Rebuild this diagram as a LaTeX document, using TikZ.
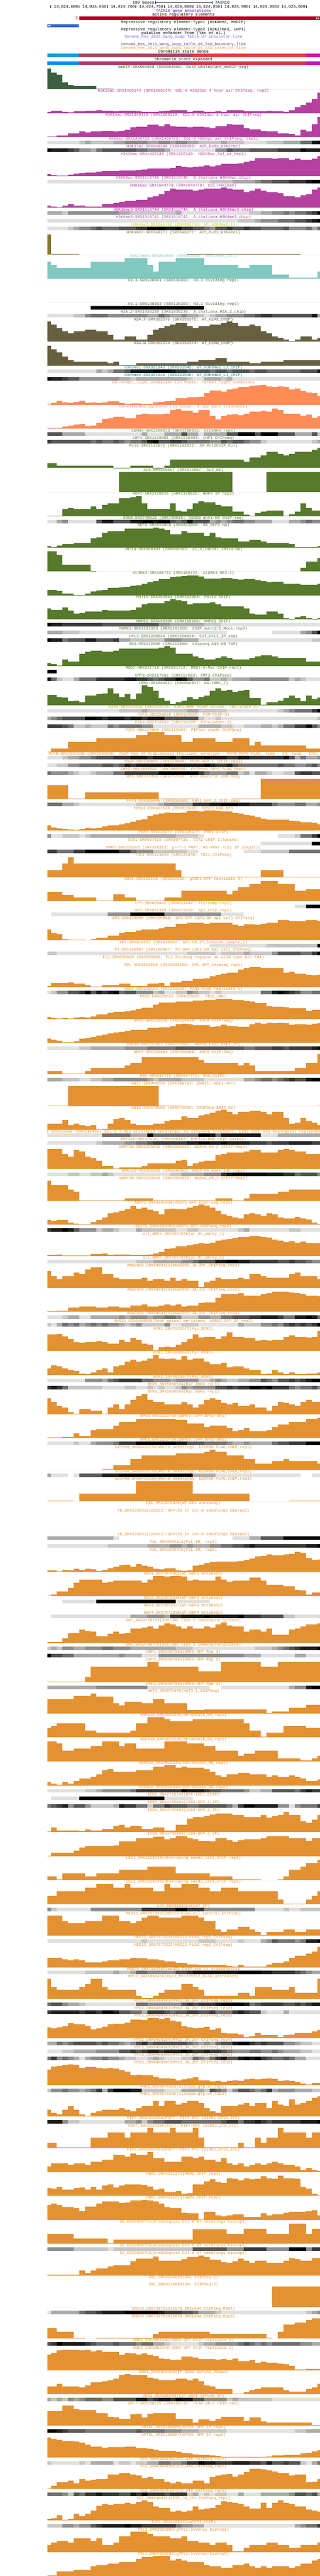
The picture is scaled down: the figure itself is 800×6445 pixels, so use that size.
\documentclass[tikz,border=0pt]{standalone}
\usepackage{fontspec}
\newfontfamily\ucsc{Liberation Mono}
\definecolor{gr1}{RGB}{224,224,224}
\definecolor{gr2}{RGB}{198,198,198}
\definecolor{gr3}{RGB}{170,170,170}
\definecolor{gr4}{RGB}{142,142,142}
\definecolor{gr5}{RGB}{113,113,113}
\definecolor{gr6}{RGB}{85,85,85}
\definecolor{gr7}{RGB}{57,57,57}
\definecolor{gr8}{RGB}{28,28,28}
\definecolor{gr9}{RGB}{0,0,0}
\definecolor{genecol}{RGB}{80,0,240}
\definecolor{redel}{RGB}{181,0,32}
\definecolor{blueel}{RGB}{51,102,204}
\definecolor{insul}{RGB}{120,110,240}
\definecolor{tadb}{RGB}{72,61,139}
\definecolor{tadi}{RGB}{218,165,32}
\definecolor{cs1}{RGB}{0,160,230}
\definecolor{cs2}{RGB}{181,64,96}
\definecolor{cs3}{RGB}{230,57,70}
\definecolor{cs4}{RGB}{212,16,176}
\definecolor{csline}{RGB}{100,50,210}
\definecolor{medip}{RGB}{60,95,65}
\definecolor{acol}{RGB}{180,64,160}
\definecolor{k36}{RGB}{222,0,200}
\definecolor{k4me2}{RGB}{210,210,0}
\definecolor{k4me1}{RGB}{136,120,48}
\definecolor{k27}{RGB}{128,200,192}
\definecolor{hvar}{RGB}{102,95,64}
\definecolor{k9}{RGB}{0,136,150}
\definecolor{dhcol}{RGB}{255,139,87}
\definecolor{grn}{RGB}{87,122,44}
\definecolor{org}{RGB}{228,145,50}
\tikzset{lblsty/.style={font=\ucsc\fontsize{10}{10}\selectfont, inner sep=0pt, anchor=base}}
\newcount\trk
\gdef\ty{167}
\gdef\curdiv{1}
\newcommand\tlabel[2]{%
  \global\advance\trk by 1
  \begin{scope}
    \clip (118,\ty-8) rectangle (800,\ty+8);
    \node[lblsty,text=#2] (t\the\trk) at (459,\ty+3.2) {#1};
  \end{scope}}
\newcommand\bartrack[3]{%
  \tlabel{#1}{#2}%
  \gdef\bi{0}%
  \foreach \n/\v in {#3}{%
    \pgfmathsetmacro\xa{ifthenelse(\bi==0,118,127.2+14.2*(\bi-1))}%
    \pgfmathtruncatemacro\bj{\bi+\n}%
    \pgfmathsetmacro\xb{min(800,127.2+14.2*(\bj-1))}%
    \pgfmathsetmacro\hh{min(51,\v/\curdiv)}%
    \fill[#2] (\xa,\ty+56) rectangle (\xb,\ty+56-\hh);%
    \xdef\bi{\bj}%
  }%
  \pgfmathsetmacro\tmp{\ty+60}\xdef\ty{\tmp}%
}
\newcommand\densetrack[3]{%
  \tlabel{#1}{#2}%
  \gdef\bi{0}%
  \foreach \n/\g in {#3}{%
    \pgfmathsetmacro\xa{ifthenelse(\bi==0,118,127.2+14.2*(\bi-1))}%
    \pgfmathtruncatemacro\bj{\bi+\n}%
    \pgfmathsetmacro\xb{min(800,127.2+14.2*(\bj-1))}%
    \ifnum\g>0 \fill[gr\g] (\xa,\ty+5) rectangle (\xb,\ty+14);\fi
    \xdef\bi{\bj}%
  }%
  \pgfmathsetmacro\tmp{\ty+19}\xdef\ty{\tmp}%
}
\begin{document}
\begin{tikzpicture}[x=1pt,y=-1pt]
\useasboundingbox (0,0) rectangle (800,6445);
\fill[white] (0,0) rectangle (800,6445);
% scale bar
\node[lblsty,anchor=base east] (sb) at (386,9.2) {100 bases};
\coordinate (sbl) at (388.5,6);
\coordinate (sbr) at (530.5,6);
\draw[line width=0.8pt] (sbl) -- (sbr);
\draw[line width=0.8pt] ([yshift=4pt]sbl) -- ([yshift=-4pt]sbl);
\draw[line width=0.8pt] ([yshift=4pt]sbr) -- ([yshift=-4pt]sbr);
\node[lblsty,anchor=base west] (asm) at (538,9.2) {TAIR10};
% position ruler
\foreach \k/\lab in {0/,1/{14,024,600},2/{14,024,650},3/{14,024,700},4/{14,024,750},5/{14,024,800},6/{14,024,850},7/{14,024,900},8/{14,024,950},9/{14,025,000}}{
  \pgfmathsetmacro\tx{126.6+71.1*\k}
  \draw[line width=0.8pt] (\tx,13.3) -- (\tx,21);
  \node[lblsty,anchor=base east] (r\k) at (\tx-2.5,20.4) {\lab};
}
\node[lblsty,text=genecol] (gene) at (459,29.9) {TAIR10 gene annotations};
\node[lblsty] (act) at (459,38.9) {active regulatory elements};
\fill[redel] (198.7,41) rectangle (800,50);
\node[lblsty,text=redel] (three) at (191.6,48.7) {3};
\fill[white] (791,43) -- (794.5,45.5) -- (791,48) -- cycle;
\fill[white] (795,43) -- (798.5,45.5) -- (795,48) -- cycle;
\node[lblsty] (rep1) at (459,58.2) {Repressive regulatory element-Type1 (H3K9me2, MeDIP)};
\fill[blueel] (118,60) rectangle (197.2,68.7);
\fill[white] (123,62) -- (119.5,64.4) -- (123,66.8) -- cycle;
\fill[white] (126.8,62) -- (123.3,64.4) -- (126.8,66.8) -- cycle;
\node[lblsty] (rep2) at (459,77.2) {Repressive regulatory element-Type2 (H3K27me3, LHP1)};
\node[lblsty] (enh) at (459,86.2) {putative enhancer from (Yan et al.)};
\node[lblsty,text=insul] (s7) at (459,95.2) {Genome\_Res\_2015\_Wang\_Supp\_Table\_S7\_insulator-like};
\node[lblsty,text=tadb] (s8) at (459,114.2) {Genome\_Res\_2015\_Wang\_Supp\_Table\_S8\_TAD\_boundary\_like};
\node[lblsty,text=tadi] (s9) at (459,123.2) {Genome\_Res\_2015\_Wang\_Supp\_Table\_S9\_TAD\_interior\_like};
\node[lblsty] (csd) at (459,132.2) {Chromatin state dense};
\fill[cs1] (118,134) rectangle (197.2,142.7);
\fill[cs2] (197.2,134) rectangle (481.7,142.7);
\fill[cs3] (481.7,134) rectangle (765.8,142.7);
\fill[cs4] (765.8,134) rectangle (800,142.7);
\node[lblsty] (cse) at (459,151.2) {Chromatin state expanded};
\fill[cs1] (118,153) rectangle (197.2,162);
\fill[cs2] (197.2,153) rectangle (481.7,162);
\fill[cs3] (481.7,153) rectangle (765.8,162);
\fill[cs4] (765.8,153) rectangle (800,162);
\draw[csline,line width=0.6pt] (118,157.2) -- (800,157.2);
\draw[csline,line width=0.6pt] (118.3,153) -- (118.3,162);
% ---------------- tracks ----------------
\gdef\curdiv{1}
\bartrack{meDIP-SRX004968 (SRX004968: Col0\_wholeplant\_meDIP-seq)}{medip}{1/51,1/41.7,1/35.7,1/16.7,1/10.7,4/7.7,3/1.7,37/0}
\gdef\curdiv{3}
\bartrack{H3K23ac-SRX1469144 (SRX1469144: COL-0 H3K23ac 4 hour air ChIPseq, rep2)}{acol}{1/11,2/17,1/8,1/5,2/14,2/17,1/20,2/17,1/14,3/17,1/14,3/11,1/14,1/17,3/20,1/11,2/17,2/11,1/14,1/11,3/20,4/14,1/17,2/14,1/11,1/23,1/44,1/62,1/80,1/107,1/153}
\bartrack{H3K14ac-SRX1469119 (SRX1469119: COL-0 H3K14ac 4 hour air ChIPseq)}{acol}{2/6,2/12,2/29,1/41,1/35,2/41,2/47,1/41,1/47,1/53,1/74,2/77,2/92,1/83,1/98,1/83,2/77,1/74,2/77,1/74,1/65,2/83,1/98,2/92,1/65,2/59,1/47,2/41,2/29,1/23,1/11,1/53,1/41,1/98,1/153}
\densetrack{H3K9ac-SRX1466723 (SRX1466723: COL-0 H3K9ac air ChIPseq, rep1)}{acol}{6/1,1/2,1/3,4/2,2/3,4/4,2/3,2/4,1/3,2/4,2/3,4/2,1/3,3/2,4/1,3/2,3/3,2/5,1/8,1/9}
\densetrack{H3K27ac-SRX648280 (SRX648280: Ath\_buds\_H3K27ac)}{acol}{1/9,3/8,1/7,1/6,2/4,1/3,1/5,6/6,2/5,3/4,1/3,8/1,2/4,1/6,3/5,5/6,4/7,1/9,3/8}
\bartrack{H3K36ac-SRX1426149 (SRX1426149: H3K36ac\_Col\_wt\_Rep1)}{acol}{1/17,1/8,2/5,1/11,1/20,1/23,2/29,1/35,1/38,2/41,3/44,1/47,1/50,4/59,1/62,1/77,1/71,1/68,1/71,1/74,1/80,1/74,1/80,1/92,2/95,1/98,1/107,1/116,1/137,1/134,1/137,1/131,2/134,1/125,1/131,2/125,1/131,1/152}
\densetrack{H3K56ac-SRX1518745 (SRX1518745: A\_thaliana\_H3K56ac\_chip)}{acol}{29/1,4/2,4/3,1/4,2/5,3/6,3/7,1/8,2/9}
\bartrack{H4K16ac-SRX1044778 (SRX1044778: Col-H4K16ac)}{acol}{1/19,1/10,1/4,1/19,1/28,2/19,3/10,2/28,1/37,1/43,2/52,2/61,1/79,1/85,1/103,1/127,1/145,3/137,1/128,1/137,3/146,1/152,1/146,2/137,1/119,1/128,1/146,1/128,2/119,1/110,2/86,1/80,1/95,1/104,1/137,1/152}
\densetrack{H3K36me3-SRX1518744 (SRX1518744: A\_thaliana\_H3K36me3\_chip)}{k36}{3/3,1/2,9/4,2/3,8/2,1/3,12/1,2/2,2/3,2/4,1/5,1/4,2/5,1/6,1/7,1/9}
\densetrack{H3K4me3-SRX1518741 (SRX1518741: A\_thaliana\_H3K4me3\_chip)}{acol}{34/1,3/2,1/3,3/4,3/5,2/6,1/7,1/8,1/9}
\densetrack{H3K4me2-DRX066756 (DRX066756: WT\_H3K4me2\_1)}{k4me2}{4/1,1/2,1/3,2/4,1/5,1/6,3/5,3/6,2/7,3/9,2/8,1/9,2/7,2/6,1/5,1/4,2/6,1/7,2/6,1/7,2/6,4/5,1/6,3/4,1/5,1/3,1/5}
\gdef\curdiv{1}
\bartrack{H3K4me1-SRX648277 (SRX648277: Ath\_buds\_H3K4me1)}{k4me1}{1/51,5/1,19/0,20/1,4/0}
\gdef\curdiv{2.412}
\bartrack{H3K27me3-SRX853860 (SRX853860: H3K27me3\_Col)}{k27}{1/103,1/83,6/64,6/103,4/122,1/83,1/44,3/103,5/122,6/83,2/64,4/83,3/23,5/4,1/43}
\bartrack{H3.3-SRX130301 (SRX130301: H3.3 dividing rep1)}{hvar}{49/0}
\densetrack{H3.1-SRX130303 (SRX130303: H3.1 dividing rep1)}{hvar}{8/0,20/9,21/0}
\densetrack{H2A.Z-SRX1436239 (SRX1436239: A\_thaliana\_H2A.Z\_chip)}{hvar}{5/1,2/2,1/4,3/5,7/4,2/3,1/5,1/4,2/3,1/4,2/3,1/2,1/1,1/2,2/3,3/4,2/5,1/6,2/7,7/6,1/8,1/3}
\bartrack{H2A.X-SRX352375 (SRX352375: WT\_H2AX\_ChIP)}{hvar}{1/122,1/103,1/83,1/62,1/52,2/62,2/74,2/62,1/42,2/13,2/33,2/13,1/42,1/74,1/83,1/93,1/103,2/112,1/93,1/83,2/93,2/103,1/112,1/122,1/112,2/93,1/103,1/93,1/62,1/52,1/33,1/23,1/13,1/5,1/13,2/33,1/13,1/23}
\bartrack{H2A.W-SRX352374 (SRX352374: WT\_H2AW\_ChIP)}{hvar}{1/122,1/100,1/79,1/57,1/35,6/25,1/14,1/25,3/4,9/14,2/25,3/35,2/46,4/25,2/14,4/25,7/35}
\densetrack{H3K9me1-SRX361945 (SRX361945: WT\_H3K9me1\_LJ\_ChIP)}{k9}{9/1,1/3,1/2,1/3,2/5,1/6,4/8,3/9,1/8,2/7,4/6,1/5,2/6,1/5,3/6,1/5,2/6,6/5,3/6,1/8}
\densetrack{H3K9me2-SRX361946 (SRX361946: WT\_H3K9me2\_LJ\_ChIP)}{k9}{1/9,2/8,1/7,2/6,7/4,2/3,1/2,9/3,1/2,2/1,3/3,1/2,1/3,16/1}
\bartrack{DH-normal\_light\_condition (in house: normal light conditon)}{dhcol}{1/4,1/11,1/25,1/16,1/13,1/18,1/25,1/13,1/16,1/11,1/16,2/20,1/13,1/7,2/10,2/6,1/15,1/18,1/20,1/23,2/40,1/47,1/45,1/49,1/71,2/86,1/81,1/94,1/98,2/108,1/116,1/118,1/122,1/111,1/108,1/112,1/107,1/93,1/98,1/83,1/73,1/70,1/54}
\bartrack{DH-extended\_darkness (in house: 3-day dark treatment)}{dhcol}{3/5,1/13,1/21,1/25,1/28,1/16,1/21,1/35,1/59,1/63,2/74,2/64,1/84,1/93,3/88,1/92,1/114,1/121,2/109,1/98,2/112,1/79,1/57,1/80,1/84,1/88,1/83,1/93,2/103,1/110,1/103,1/122,1/114,1/93,1/91,1/93,1/80,1/84,1/67,1/77}
\densetrack{CENH3-SRX2250913 (SRX2250913: AtCENH3\_rep1)}{grn}{3/6,4/3,10/1,1/3,3/1,3/3,1/6,2/3,1/1,4/3,2/6,3/9,1/6,3/9,3/6,3/3,1/6,1/2}
\densetrack{LHP1-SRX1519404 (SRX1519404: LHP1 ChIPseq)}{grn}{1/7,7/6,1/5,1/6,2/5,1/6,1/5,1/4,2/5,1/6,1/8,1/9,2/6,2/7,1/6,4/5,2/4,1/6,1/5,2/6,1/5,2/4,1/2,8/1,1/2,1/3}
\bartrack{Pol2-SRX1142672 (SRX1142672: 30\_Pol2ChIP\_Col)}{grn}{2/28,10/15,3/3,4/15,2/3,1/15,13/51,1/40,2/64,1/76,2/98,1/86,1/76,1/86,3/98,1/110,1/122}
\bartrack{AL5-SRX515067 (SRX515067: AL5\_OE)}{grn}{13/0,20/122,6/0,10/122}
\bartrack{HDP2-SRX2310526 (SRX2310526: HDP2 IP rep2)}{grn}{3/3,1/41,1/49,3/41,1/58,1/41,1/66,2/75,2/107,1/114,1/121,1/75,4/41,1/75,1/34,1/27,1/41,1/75,1/90,2/83,1/66,2/58,2/27,1/9,1/3,1/17,1/27,3/34,1/3,1/10,1/27,1/75,1/49,2/34}
\densetrack{SDG8-SRX749018 (SRX749018: hSDG8 anti-HA ChIP-seq)}{grn}{2/1,1/3,1/4,5/1,1/6,2/8,3/6,2/8,2/9,1/8,2/9,1/6,1/5,1/6,1/8,3/6,1/3,1/4,1/3,1/4,2/5,2/4,3/3,3/1,2/3,1/4,1/5,2/4}
\bartrack{REF6-SRX853858 (SRX853858: HA\_REF6-HA)}{grn}{1/10,1/4,1/11,2/21,3/28,1/55,1/62,1/89,3/99,5/115,1/122,1/115,1/105,2/81,1/99,3/89,1/72,1/89,1/62,3/55,2/38,2/45,1/38,4/28,1/21,4/4,1/10}
\bartrack{JMJ14-SRX669383 (SRX669383: ZC\_3\_140207 JMJ14-HA)}{grn}{2/122,1/102,5/42,1/2,36/0,1/23,2/61,1/83}
\bartrack{AtDEK3-SRX488722 (SRX488722: AtDEK3 OE3-1)}{grn}{2/35,1/28,2/13,2/4,1/13,1/25,1/30,1/35,2/45,1/51,1/54,1/58,1/63,1/72,1/80,1/87,2/98,1/111,1/116,1/118,2/122,1/115,2/101,1/102,2/104,1/99,1/96,2/99,1/93,1/86,1/81,2/83,3/72,2/65,1/66,1/70}
\bartrack{PolIV-SRX252954 (SRX252954: PolIV ChIP)}{grn}{1/67,2/59,1/72,1/55,1/35,1/40,3/47,1/59,4/55,1/59,1/72,1/91,3/98,1/110,1/122,1/117,1/110,1/91,3/98,1/105,1/91,4/79,1/66,1/35,1/28,1/28,2/47,1/35,1/8,1/3,1/15,1/21,1/8,1/3,1/8}
\densetrack{NRPE1-SRX159106 (SRX159106: NRPE1 ChIP)}{grn}{1/9,2/8,7/7,10/6,2/4,6/3,3/2,18/1}
\densetrack{MORC1-SRX1161363 (SRX1161358: ChIP\_morc1/2\_Mock\_rep3)}{grn}{3/3,3/2,26/1,8/0,5/1,1/3,1/4,1/6,1/9}
\densetrack{HYL1-SRX1268024 (SRX1268024: Col\_HYL1\_IP\_seq)}{grn}{1/9,2/8,1/5,3/6,2/8,3/6,1/7,2/3,6/2,3/4,3/3,20/1,2/2}
\bartrack{AN3-SRX212080 (SRX212080: Chipseq AN3 HB TAP)}{grn}{1/21,1/12,1/4,1/40,2/30,1/76,1/88,2/95,2/88,1/95,7/105,1/112,1/122,1/112,3/76,1/60,1/50,2/40,1/50,1/60,1/50,3/40,1/50,1/60,2/66,1/60,5/50,3/30}
\densetrack{MBD7-SRX621716 (SRX621716: MBD7-5-Myc-ChIP-rep1)}{grn}{2/9,47/0}
\densetrack{CMT3-SRX157663 (SRX157663: CMT3\_ChIPseq)}{grn}{1/8,1/5,1/2,2/1,1/3,3/5,5/7,2/8,2/7,1/6,1/5,1/6,2/7,1/9,1/8,1/6,2/4,1/5,2/2,1/3,1/2,3/3,7/4,1/2,1/3,1/2,3/1}
\bartrack{IBM1-DRX066817 (DRX066817: HA-IBM1\_2)}{grn}{2/64,1/52,1/47,1/25,1/30,1/20,2/61,1/68,1/73,1/105,1/71,1/52,1/68,1/37,1/73,1/122,1/114,1/88,1/44,1/28,1/11,1/20,1/28,1/52,1/37,1/52,1/61,1/88,1/105,1/88,1/95,1/83,1/88,1/95,1/44,1/44,1/4,2/20,1/30,1/44,1/61,1/44,1/25,1/61,1/37,1/47}
\densetrack{E2Fa-SRX333416 (SRX333416: E2Fa-HBH TChAP output, replicate 2)}{org}{13/1,4/2,1/3,7/2,2/3,5/2,9/1,1/2,1/3,1/4,3/5,1/7,1/9}
\densetrack{PIF3-SRX159028 (SRX159028: P3M-ChIP-3)}{org}{1/3,1/4,1/5,4/6,2/9,1/8,1/7,3/8,1/7,2/8,1/7,3/8,6/6,1/2,2/1,1/2,17/1,1/2}
\densetrack{PIF4-SRX214150 (SRX214150: PIF4-peaks-3)}{org}{3/7,1/6,1/5,2/2,1/3,3/2,1/5,1/4,4/5,2/4,8/1,4/3,2/2,2/1,3/2,2/3,1/2,1/3,2/5,2/7,1/9,1/6,1/4}
\bartrack{PIF5-SRX115869 (SRX115869: PIF5ox shade ChIPSeq)}{org}{1/4,3/22,5/63,7/83,2/102,3/121,3/102,2/63,4/83,3/63,3/83,1/42,1/63,8/42,3/22}
\densetrack{PHYB-SRX2063648 (SRX2063648: ChIP-Seq of Arabidopsis thaliana; genotype - PHYB:PHYB-FLAG, time - 10, temp - 17C)}{org}{3/1,1/2,2/3,2/4,1/5,3/6,3/7,3/8,1/7,3/8,1/9,1/7,4/8,1/9,3/8,2/7,2/8,6/7,1/8,1/6,1/3,1/5,2/3,1/4}
\densetrack{PhyA-SRX320094 (SRX320094: PhyA-GFP\_1 [ChIP-seq])}{org}{2/1,2/2,2/4,4/5,2/6,1/5,1/6,1/8,1/7,5/8,1/9,6/8,1/9,1/8,2/7,1/8,1/6,7/5,1/6,2/5,2/4,1/5,1/6,1/4}
\densetrack{CRY2-SRX1005826 (SRX1005826: ChIPSeq-CRY2\_FLAG\_Rep1)}{org}{1/5,3/4,1/3,1/2,2/1,1/2,3/3,2/5,6/7,7/9,1/7,1/5,3/4,2/5,1/2,1/3,1/1,2/3,1/2,2/1,2/2,1/6,2/7,2/6}
\bartrack{HY5-SRX727353 (SRX727353: HY5 specific gDB-seq)}{org}{4/82,3/3,13/41,7/3,6/0,5/3,11/121}
\densetrack{FHY1-SRX555090 (SRX555090: FHY1-GFP\_2\_ChIP-seq)}{org}{3/5,2/3,1/2,10/1,4/2,1/3,5/4,3/7,2/8,3/9,2/8,4/7,1/5,3/4,2/5,2/3,1/4}
\bartrack{FRS12-ERX611626 (ERX611626: FRS12\_HBH\_N2)}{org}{1/31,1/19,1/14,1/9,1/6,1/3,1/10,1/16,1/14,1/16,1/24,1/31,1/33,1/39,1/45,1/54,1/62,1/69,1/86,1/97,1/102,1/108,2/107,1/109,1/117,1/119,1/116,2/122,1/120,2/115,1/107,1/103,1/94,1/90,1/82,1/72,1/65,1/67,2/65,1/60,1/57,1/50,1/49,1/46,1/39}
\densetrack{PRR5-SRX128177 (SRX128177: PRR5-ChIP)}{org}{1/4,2/1,3/2,1/1,1/2,15/3,4/2,1/1,13/0,3/1,1/2,2/5,1/7,1/9}
\densetrack{CCA1-SRX997425 (SRX997425: CCA1-ChIP\_Illumina)}{org}{38/0,9/1,2/9}
\densetrack{PRR7-SRX328353 (SRX328353: prr7-3 PRR7::HA-PRR7 \#151 IP (ExpII))}{org}{2/7,3/5,2/7,6/9,2/7,1/5,3/4,6/2,2/1,8/0,3/1,5/2,6/5}
\bartrack{TOC1-SRX121040 (SRX121040: TOC1\_ChIPSeq)}{org}{3/42,1/84,1/122,18/84,1/42,14/4,4/42,7/4}
\bartrack{SOC1-SRX262132 (SRX262132: gSOC1-GFP replicate 3)}{org}{3/57,2/38,4/24,3/5,2/43,2/24,5/5,3/24,8/62,1/43,1/62,2/84,2/103,3/122,3/103,2/62,3/74}
\densetrack{LFY-SRX029442 (SRX029442: lfy-samp-rep2)}{org}{44/0,2/1,3/9}
\densetrack{AP2-SRX019319 (SRX019319: ap2\_chip\_rep2)}{org}{1/0,10/1,4/4,6/9,10/4,4/1,14/0}
\bartrack{AP3-SRX150808 (SRX150808: AP3-GFP (AP1-GR ap1 cal) ChIPseq)}{org}{1/67,1/45,1/38,1/9,3/4,1/0,1/9,2/16,2/30,1/45,2/52,1/59,3/67,1/74,2/81,2/101,3/108,1/101,4/108,1/96,1/88,2/98,1/96,1/101,2/108,2/122,3/116,2/122,1/118}
\densetrack{AP1-SRX018392 (SRX018392: AP1-GR\_2h\_induced\_sample\_1)}{org}{29/0,10/1,9/2,1/9}
\densetrack{PI-SRX150807 (SRX150807: PI-GFP (AP1-GR ap1 cal) ChIPseq)}{org}{2/2,23/1,5/2,1/1,4/2,1/3,4/2,1/4,4/6,2/5,1/7,1/9}
\densetrack{FLC-SRX039006 (SRX039006: FLC binding regions in wild type Col FRI)}{org}{49/0}
\bartrack{RPL-SRX1603698 (SRX1603698: RPL-GFP\_chipseq\_rep1)}{org}{1/8,3/25,1/30,2/21,1/13,2/4,3/13,2/21,3/8,2/21,1/25,1/8,2/30,2/37,2/49,1/54,1/66,1/76,1/83,2/88,1/105,1/117,2/122,4/117,1/88,1/95,2/83,1/76,1/71,1/76}
\densetrack{KAN1-SRX310193 (SRX310193: KAN1-FLAG replicate 1)}{org}{1/1,1/2,2/4,2/6,1/7,1/9,1/6,1/8,1/7,1/8,1/9,1/5,2/6,3/4,1/2,1/3,2/1,2/2,1/4,1/3,2/2,1/1,1/2,7/1,2/5,1/8,1/9,1/8,1/7,1/6,2/4,2/5}
\gdef\curdiv{1}
\bartrack{PPD2-ERX620625 (ERX620625: PPD2\_HBH)}{org}{1/4.6,1/2,1/1.3,1/2,1/1.3,1/3,1/4.6,1/3.4,1/5.8,2/11.6,1/14.5,2/17,1/18.7,1/21,1/25,2/28,1/35,1/40,2/40.7,3/43,2/46,2/46.7,1/50,2/49.3,2/46.7,1/44.7,1/42.6,2/39.7,1/32,2/30,1/29.4,3/26.5,1/20,2/23}
\gdef\curdiv{2.412}
\bartrack{SPCH-SRX539638 (SRX539638: SPCH ChIP-Seq)}{org}{1/25,1/19,1/14,2/4,1/11,1/24,1/28,1/33,1/43,1/51,1/55,1/62,1/65,1/73,1/77,2/79,1/89,1/91,2/94,1/101,1/112,1/115,1/111,1/107,2/106,1/97,1/99,1/108,1/103,1/101,2/96,1/113,1/120,1/115,1/120,1/118,1/122,1/119,1/108,2/111,1/108,1/115,1/118}
\densetrack{ARR10-SRX732967 (SRX732967: ARR10\_Exp1\_Rep1\_IP)}{org}{6/1,2/2,6/3,4/4,5/5,12/6,2/5,3/6,2/7,1/6,4/7,1/8,1/9}
\bartrack{ARF6-SRX368984 (SRX368984: ARF6 ChIP-Seq)}{org}{3/21,4/3,1/21,6/37,1/54,2/70,10/105,1/88,6/70,1/54,1/70,1/54,7/21,2/37,2/70,1/121}
\densetrack{RGA-SRX647775 (SRX647775: RGA\_ChIP2)}{org}{3/3,3/2,2/1,2/2,2/3,6/4,1/3,1/2,4/3,4/2,7/1,2/3,1/4,2/5,1/4,1/5,1/6,1/7,2/6,1/8,2/9}
\bartrack{HBI1-SRX388754 (SRX388754: pHBI1::HBI1-YFP)}{org}{4/3,16/121,4/3,24/0,1/3}
\bartrack{ABI5-SRX670505 (SRX670505: ChIPSeq-ABI5\_Ab)}{org}{3/37,1/59,1/30,1/37,1/30,1/23,1/30,1/4,1/8,1/37,1/66,1/73,1/59,1/37,3/30,2/37,1/52,2/59,1/81,2/73,1/88,1/95,1/103,1/117,1/122,1/110,1/95,2/110,2/117,1/110,1/95,2/110,1/73,1/37,1/44,1/73,1/52,1/44,1/30}
\densetrack{EIN3-SRX215430 (SRX215430: Col-0 3-day etiolated seedlings, no ethylene treatment, EIN3 ChIP-Seq biological replicate 1)}{org}{10/1,5/5,3/3,1/9,8/5,2/9,1/8,1/5,7/8,3/1,8/3}
\densetrack{ERF115-SRX320167 (SRX320167: ERF115-HBH ChIP output)}{org}{9/1,1/2,4/3,2/4,2/5,1/6,6/7,2/8,2/9,2/8,1/9,4/8,3/7,1/6,3/7,4/8,2/7}
\bartrack{WRKY18-SRX2039032 (SRX2039032: W18HA\_0h\_2 (ChIP-Seq))}{org}{3/122,1/91,1/76,1/115,1/107,1/76,1/67,1/50,2/18,1/5,4/11,1/18,5/35,1/50,1/58,1/20,1/35,1/43,2/50,1/84,1/91,3/100,1/107,2/115,3/100,1/115,1/122,1/115,2/107,3/91}
\densetrack{WRKY33-SRX890383 (SRX890383: WK33-HA mock 14h rep1)}{org}{4/1,2/2,2/1,2/2,1/3,1/2,10/1,2/2,4/3,3/4,1/7,1/8,6/9,3/8,2/7,1/5,3/6,1/4}
\bartrack{WRKY40-SRX2039026 (SRX2039026: W40HA\_0h\_1 (ChIP-Seq))}{org}{1/121,3/96,1/68,1/55,8/3,5/14,11/3,3/14,2/3,1/14,5/41,2/55,6/68}
\bartrack{ADCP1-SRX4503490(ADCP1-GFP ChIP-seq\_rep1)}{org}{1/27,1/22,2/27,1/12,1/7,2/3,1/17,1/27,1/44,1/70,1/75,1/85,1/92,1/111,1/97,1/104,1/90,1/80,1/63,1/92,1/97,2/92,1/104,1/111,1/121,1/116,1/102,1/85,1/63,1/53,1/44,1/39,1/63,1/70,1/63,1/53,1/70,1/61,1/44,2/39,1/48,1/39,1/32,1/12,1/3}
\densetrack{ADCP1\_SRX4503492(ADCP1-GFP\_ChIPseq\_rep2)}{org}{1/7,2/8,1/9,1/8,1/6,3/4,1/2,2/3,1/2,3/1,1/3,6/2,2/1,2/2,7/1,1/2,1/3,7/1,2/2,4/1}
\bartrack{all\_WRKY\_SRX3557820(wt\_0h\_aWrky\_1)}{org}{1/7,1/8,1/10,1/3,4/5,2/12,1/17,1/8,3/10,3/8,1/10,1/17,1/25,1/44,1/49,2/59,1/66,1/73,1/80,1/76,1/83,1/93,1/100,1/105,1/110,1/115,1/117,2/121,1/117,1/112,1/100,1/93,1/86,1/90,1/83,1/88,1/78,2/78}
\densetrack{all\_WRKY\_SRX3557828(wt\_0h\_aWrky\_2)}{org}{16/1,3/2,5/3,2/4,1/5,3/6,2/8,2/9,2/8,5/7,2/6,1/7,2/6,1/5,2/4}
\bartrack{ANAC055\_SRX6460113(ANAC055\_JA\_2hr\_ChIPseq\_rep1)}{org}{1/102,1/71,1/52,2/71,1/93,1/83,1/112,2/122,2/83,1/61,4/52,1/61,1/42,2/52,1/42,1/61,1/42,1/52,2/42,1/4,1/32,1/42,1/61,3/52,1/61,1/52,2/83,1/71,4/61,1/83,1/93,3/71,1/52}
\bartrack{ANAC055\_SRX6460114(ANAC055\_JA\_2hr\_ChIPseq\_rep2)}{org}{2/4,2/8,2/25,3/33,2/25,2/33,2/25,2/37,1/45,2/33,1/37,1/45,1/37,1/45,1/33,2/37,1/53,2/57,1/86,3/106,1/111,3/98,1/106,1/111,3/122,1/117,1/111,1/106,2/98,1/94}
\densetrack{ANAC055\_SRX6460115(ANAC055\_JA\_2hr\_ChIPseq\_rep3)}{org}{3/1,1/2,2/3,2/1,5/3,1/4,1/3,3/4,1/3,2/4,2/5,1/4,3/2,2/4,2/3,2/5,3/6,2/7,3/8,1/7,2/5,2/8,1/9,1/8,1/5}
\densetrack{ARR12\_SRX6490939(Root apical meristems, ARR12-GFP\_IP\_rep2)}{org}{1/2,1/1,1/3,1/5,1/4,1/5,1/3,1/4,1/5,1/4,1/5,2/4,1/3,1/2,1/3,1/4,4/2,1/4,2/1,3/2,7/1,1/3,3/2,2/4,1/5,1/4,1/6,1/7,1/6,1/7,1/6,1/7,1/9}
\bartrack{BDR1\_SRX3928572(Myc\_BDR1)}{org}{2/101,1/103,1/89,1/72,1/55,1/50,2/55,1/60,1/55,2/45,1/67,1/55,1/79,1/65,1/43,1/38,1/4,1/21,1/26,1/24,1/38,1/55,1/72,1/101,1/81,1/84,1/86,1/72,1/89,1/113,1/84,1/86,2/79,1/62,1/67,1/62,1/65,1/67,1/86,1/93,1/84,1/86,1/81,1/84,1/122}
\bartrack{BDR1\_SRX5900593(Myc BDR1)}{org}{1/40,1/59,1/52,1/40,1/30,1/23,1/8,1/4,1/16,1/30,1/40,1/16,1/52,1/59,1/81,1/93,1/81,1/86,1/100,1/122,1/100,1/95,1/100,1/93,1/114,1/93,2/100,1/81,2/66,1/73,1/45,2/52,1/40,2/30,1/4,1/8,1/30,1/16,1/4,1/16,2/4,2/8,1/16}
\densetrack{BDR2\_SRX3928574(Myc\_BDR2)}{org}{7/1,3/4,1/3,1/5,1/6,4/7,2/5,3/4,1/3,4/4,2/2,1/3,1/4,1/3,2/2,2/3,2/4,1/6,1/5,1/4,2/6,1/7,1/6,1/7,1/8,2/9}
\densetrack{BDR3\_SRX5900594(Myc BDR3 rep1)}{org}{1/7,1/8,1/7,1/5,6/2,4/1,2/2,2/1,1/2,1/1,1/2,2/1,1/2,1/4,1/3,4/4,2/6,1/7,1/6,2/7,2/9,1/8,1/9,3/7,1/5,1/4,2/5,1/6,1/4}
\bartrack{BDR3\_SRX5900595(Myc BDR3 rep2)}{org}{1/95,1/75,1/49,1/39,1/13,1/3,2/32,2/22,1/3,1/39,1/59,1/32,1/59,1/85,1/107,1/121,1/85,2/75,3/59,1/75,1/59,1/39,1/59,1/85,1/95,1/85,1/68,1/59,1/68,2/49,1/59,2/39,1/22,1/49,1/75,1/68,1/59,1/49,1/75,1/85,2/75}
\bartrack{BPC6\_ERX2223705(pBPC6::GFP:BPC6-BR1)}{org}{3/3,2/7,1/29,2/14,1/48,3/55,1/75,3/96,7/116,2/109,3/89,1/67,3/75,1/60,1/41,1/48,1/60,3/41,1/48,1/67,2/82,3/96,2/116,1/121}
\densetrack{BPC6\_ERX2223706(pBPC6::GFP:BPC6-BR1)}{org}{5/1,1/2,2/1,1/3,3/4,1/5,3/7,7/9,2/8,3/6,4/5,1/4,2/3,1/4,4/3,1/5,2/6,3/7,3/9}
\bartrack{bZIP68\_SRX6410178(Whole seedlings, bZIP68-FLAG,CHIP,rep1)}{org}{10/0,2/3,3/27,2/63,6/87,5/99,1/109,1/121,2/109,3/87,2/63,3/37,2/51,1/63,5/51,1/37}
\densetrack{bZIP68\_SRX6410179(Whole seedlings, bZIP68-FLAG,CHIP,rep2)}{org}{1/3,3/1,1/0,1/1,4/6,3/8,13/9,4/3,15/1,2/0,2/1}
\bartrack{bZIP68\_SRX6410180(Whole seedlings, bZIP68-FLAG,CHIP,rep3)}{org}{5/4,1/0,10/46,10/122,10/46,7/0,6/4}
\densetrack{EEL\_SRX7873339(WT:EEL antibody)}{org}{49/0}
\bartrack{FD\_ERX2338310(pSUC2::GFP:FD in Col-0 seedlings biorep1)}{org}{49/0}
\densetrack{FD\_ERX2338311(pSUC2::GFP:FD in Col-0 seedlings biorep2)}{org}{12/3,1/1,20/0,3/1,2/3,4/6,7/9}
\densetrack{FUL\_SRX3505414(FUL IM, rep1)}{org}{11/1,7/2,4/3,2/4,1/3,1/4,3/3,2/4,2/5,2/6,1/7,1/8,9/7,2/8,1/9}
\bartrack{FUL\_SRX3505415(FUL IM, rep2)}{org}{1/11,1/9,1/4,1/13,1/11,1/18,1/13,1/18,1/16,1/6,1/13,1/23,1/33,1/41,1/45,1/33,1/47,1/38,1/33,1/18,1/16,2/23,1/9,1/6,1/11,1/38,1/45,1/54,1/59,1/64,1/62,1/64,1/62,1/66,1/71,1/83,1/95,1/98,1/105,2/100,1/105,1/110,1/122,1/115,1/86,1/71,1/74}
\bartrack{GBF1\_SRX7873305(WT:GBF1 antibody)}{org}{1/4,1/9,2/26,1/50,1/81,4/98,1/81,1/86,5/93,1/81,1/98,2/122,1/117,2/122,1/117,1/93,1/98,3/93,1/117,1/98,1/86,3/93,2/110,1/93,3/69,2/57,1/38,1/33,1/9,2/21}
\densetrack{GBF2\_SRX7873316(WT:GBF2 antibody)}{org}{3/0,6/1,14/9,6/1,20/0}
\densetrack{GBF3\_SRX7873327(WT:GBF3 antibody)}{org}{49/0}
\densetrack{GBF4\_SRX7873338(WT:GBF4 antibody)}{org}{1/0,14/1,3/3,3/4,1/3,2/7,4/8,1/9,5/8,1/9,3/7,4/6,2/2,5/1}
\bartrack{GNC\_SRX3739773(35S:GNC line 2 immunoprecipitate)}{org}{3/4,1/28,2/59,1/79,1/71,1/66,2/40,1/54,1/66,1/54,1/59,2/86,1/91,1/98,1/86,1/103,1/117,1/110,1/98,1/86,1/98,2/86,1/98,1/91,1/110,1/122,1/103,2/98,1/66,2/79,1/66,1/86,3/47,1/79,1/86,1/98,2/110,1/117}
\densetrack{GNC\_SRX3739775(35S:GNC line 1 immunoprecipitate)}{org}{1/2,1/3,1/2,2/4,2/3,3/4,2/5,3/4,8/3,3/2,11/1,3/2,1/3,1/4,1/5,1/6,1/7,3/8,1/9}
\densetrack{GRF1\_SRX5507863(GRF1-GFP Rep 3)}{org}{1/9,2/6,2/5,8/3,1/4,3/3,3/1,15/4,3/3,6/1,2/3,3/1}
\bartrack{GRF3\_SRX5507865(GRF3-GFP Rep 2)}{org}{7/3,1/31,10/92,2/121,7/92,4/63,7/121,3/92,8/121}
\densetrack{GRF3\_SRX5507866(GRF3-GFP Rep 3)}{org}{9/3,9/4,11/1,2/0,12/1,1/3,2/4,1/8,2/9}
\bartrack{HAT3\_SRX875470(HAT3-1\_ChIPSeq)}{org}{5/86,3/105,1/122,3/103,1/62,1/50,3/71,2/62,2/86,4/62,3/21,11/26,1/4,3/11,3/33,3/54}
\bartrack{HSFA1b\_SRX2024335(NP:HSFA1b\_NS\_rep1)}{org}{1/58,1/69,5/84,2/43,6/29,1/43,2/84,3/122,1/110,4/98,9/110,1/84,2/43,1/5,3/29,4/69,3/58}
\bartrack{HSFA1b\_SRX2024336(NP:HSFA1b\_NS\_rep2)}{org}{2/122,1/108,2/65,3/79,2/94,3/122,1/94,2/108,5/79,4/122,3/108,2/94,4/65,1/33,2/48,4/65,4/19,2/5,1/19,1/33}
\bartrack{HSFA1b\_SRX2024343(35S:HSFA1b\_NS\_rep1)}{org}{1/19,1/12,1/5,1/19,1/12,1/28,2/43,1/50,1/67,1/91,1/98,4/84,3/91,2/115,2/122,1/108,1/115,3/108,1/98,1/84,1/60,1/50,2/67,2/77,3/67,1/50,1/60,2/50,1/60,1/50,1/43,2/28,1/36}
\densetrack{HSFA1b\_SRX2024344(35S:HSFA1b\_NS\_rep2)}{org}{7/1,2/2,1/3,5/4,1/5,8/7,1/9,3/8,1/7,2/6,4/5,1/4,2/2,2/3,4/6,1/5,1/7,1/8,2/7}
\densetrack{ICE1\_SRX7719242(GFP-ICE1\_ChIP)}{org}{1/0,5/1,15/9,5/1,23/0}
\densetrack{IDD4\_SRX4705001(IDD4-GFP\_1\_IP)}{org}{1/5,1/6,1/7,1/8,1/4,2/6,1/4,4/2,1/3,1/8,2/7,2/5,1/2,2/5,1/7,3/6,2/5,5/6,1/5,1/3,1/7,2/9,4/8,2/4,1/1,1/4,3/5,1/7}
\bartrack{IDD4\_SRX4705002(IDD4-GFP\_3\_IP)}{org}{1/5,1/28,4/9,1/7,1/16,2/9,2/21,1/38,1/43,1/28,2/38,2/21,2/28,2/9,2/45,1/81,2/91,1/96,1/108,3/113,2/103,3/91,1/103,1/89,1/96,1/103,1/122,2/103,1/67,1/57,1/76,1/103}
\bartrack{IDD4\_SRX4705003(IDD4-GFP\_4\_IP)}{org}{1/4,4/20,1/35,1/52,5/61,1/64,3/90,3/107,2/119,1/102,1/107,2/122,1/107,1/102,2/93,1/90,2/107,1/97,1/88,1/97,3/102,1/109,4/122,3/107,1/93,2/109}
\bartrack{LEC1\_SRX3638219(developing seeds\_LEC1\_ChIP rep1)}{org}{2/23,1/4,4/42,2/23,4/42,5/62,5/83,6/42,4/23,5/4,3/0,1/4,1/23,2/62,1/83,2/104,1/122}
\bartrack{LEC1\_SRX3638221(developing seeds\_LEC1\_ChIP rep2)}{org}{2/50,5/76,2/98,3/122,2/98,1/122,4/98,2/76,1/122,2/98,3/122,2/98,2/76,3/98,7/76,1/28,4/4,1/28,1/50,1/76}
\densetrack{LHY\_SRX3182010(LHY\_IP)}{org}{1/4,1/2,6/1,9/4,6/7,2/9,3/7,9/4,5/1,1/2,2/1,4/2}
\bartrack{MED12\_SRX7573312(MED12-FLAG\_col\_control\_ChIPseq)}{org}{3/122,1/89,3/74,3/89,3/122,2/89,1/74,1/89,1/108,2/122,4/108,3/122,1/108,2/89,1/38,1/21,2/38,2/55,1/38,1/21,1/4,3/21,2/38,2/21,3/38}
\densetrack{MED12\_SRX7573320(MED12-FLAG\_rep1\_ChIPseq)}{org}{17/1,1/2,9/1,3/2,4/1,1/2,3/1,1/3,1/4,1/6,3/5,1/4,1/5,2/8,1/9}
\bartrack{MED12\_SRX7573322(MED12-FLAG\_rep2\_ChIPseq)}{org}{3/59,1/47,1/42,1/47,1/42,3/30,1/37,2/42,2/47,1/59,2/54,2/47,1/42,2/37,2/25,2/18,5/13,1/8,1/4,1/13,4/4,1/18,2/25,1/37,1/59,2/71,1/83,1/95,1/122}
\densetrack{MED25\_SRX7445540(med25 ChIP-seq of arabidopsis)}{org}{7/1,5/2,1/3,2/2,1/3,2/5,5/4,2/6,1/7,8/8,4/9,2/8,4/7,1/6,1/5,1/4,2/3}
\bartrack{MYC2\_SRX5982476(myc2\_MYC2:MYC2\_FLAG\_untreated)}{org}{1/122,1/72,4/55,1/72,1/89,2/122,1/72,5/55,1/19,2/5,1/19,1/36,3/55,2/89,1/72,1/55,6/19,2/36,1/19,3/72,3/55,1/72,4/36,1/122}
\densetrack{MYC2\_SRX6460101(MYC2\_JA\_2hr\_ChIPseq\_rep1)}{org}{1/5,2/6,1/4,2/3,1/2,9/1,2/5,6/4,1/6,1/7,1/6,3/7,1/8,4/9,1/8,1/5,1/6,4/7,2/6,1/7,1/6,1/7,2/8}
\densetrack{MYC2\_SRX6460102(MYC2\_JA\_2hr\_ChIPseq\_rep2)}{org}{1/7,5/8,1/7,2/8,1/7,2/9,1/8,2/6,2/5,1/3,3/7,1/6,1/5,2/6,2/7,2/6,1/7,3/5,1/7,1/8,1/7,2/6,1/2,3/1,1/3,6/1}
\gdef\curdiv{2.24}
\bartrack{MYC2\_SRX6460103(MYC2\_JA\_2hr\_ChIPseq\_rep3)}{org}{1/60,1/53,1/60,1/66,1/84,2/77,1/68,1/48,1/53,1/64,1/77,2/80,1/86,2/104,1/100,2/113,1/106,1/113,1/98,1/91,1/66,1/60,1/53,1/58,1/62,1/46,1/53,1/28,2/26,1/21,1/6,1/10,1/28,1/16,1/18,1/16,1/4,1/17,1/19,3/28,1/38,1/46}
\densetrack{MYC2\_SRX6460104(MYC2\_JA\_2hr\_ChIPseq\_rep4)}{org}{2/3,1/5,1/4,1/5,4/6,1/5,1/6,2/5,1/4,1/3,1/4,1/6,1/7,1/5,6/6,1/5,1/4,1/3,1/4,1/3,1/5,2/6,1/8,2/9,1/7,1/6,1/7,3/6,2/4,1/3,2/2,2/1}
\densetrack{MYC3\_SRX6460105(MYC3\_JA\_2hr\_ChIPseq\_rep1)}{org}{3/1,2/2,4/3,4/4,2/6,1/7,1/6,1/7,2/8,1/7,3/8,1/9,1/8,2/7,1/8,2/7,1/6,1/5,3/4,2/5,2/4,1/5,1/4,3/3,2/2,2/1}
\densetrack{MYC3\_SRX6460106(MYC3\_JA\_2hr\_ChIPseq\_rep2)}{org}{1/5,1/7,1/4,1/5,1/4,1/3,1/1,1/3,2/4,1/5,2/4,1/3,2/2,2/1,1/2,1/3,1/2,3/1,2/2,1/5,1/4,1/3,1/5,1/7,1/8,2/6,1/8,1/9,1/8,1/9,1/7,1/6,2/5,1/6,1/5,2/3,3/1}
\bartrack{MYC3\_SRX6460107(MYC3\_JA\_2hr\_ChIPseq\_rep3)}{org}{1/86,1/102,1/106,1/111,1/114,1/111,1/93,2/100,1/95,1/91,1/94,1/92,1/82,1/73,1/55,1/57,2/55,1/46,1/37,1/35,1/33,1/26,1/30,1/35,1/42,1/26,1/24,1/19,1/21,1/17,1/21,1/24,1/21,1/30,1/33,1/30,1/33,1/35,1/33,1/21,1/24,1/21,1/17,1/8,1/3,2/10}
\densetrack{PHE1\_SRX5676333(silique.gfp.wt\_rep1)}{org}{1/2,2/4,1/5,2/4,1/3,1/4,1/5,1/7,1/3,1/7,3/9,2/8,4/2,3/1,4/3,1/2,1/6,1/5,1/4,1/2,1/4,2/6,1/5,1/4,1/5,1/7,1/3,3/4,3/3,2/2}
\bartrack{PHE1\_SRX5676335(silique.gfp.wt\_rep2)}{org}{1/38,1/20,1/11,1/38,1/56,1/38,1/11,1/3,1/20,1/29,3/38,1/47,1/38,1/29,1/47,2/56,1/85,1/56,2/85,1/67,1/76,2/85,1/76,1/47,1/29,1/20,3/56,1/67,1/76,1/56,2/76,1/47,1/85,1/67,1/56,1/94,1/67,1/76,1/85,1/103,1/113}
\densetrack{PIF7\_SRX5454258(PIF7::PIF7-MYC (D108)\_ZT12\_27C)}{org}{3/8,1/4,2/2,8/1,2/3,1/4,1/2,1/4,2/5,3/6,7/5,1/6,2/7,1/5,2/7,1/8,1/7,1/6,5/7,3/8,1/9}
\bartrack{PIF7\_SRX5454260(PIF7::PIF7-MYC (D108)\_ZT8\_27C)}{org}{2/30,6/4,3/57,3/86,1/57,3/86,1/113,3/86,1/113,3/86,1/113,1/57,6/4,1/30,2/4,1/57,1/30,2/57,1/113,4/86,1/57,2/86}
\bartrack{PIF7\_SRX5454262(PIF7::PIF7-MYC (D108)\_ZT12\_27C)}{org}{1/30,3/48,1/39,2/48,1/39,2/57,2/68,2/95,1/86,1/104,2/95,1/113,2/77,3/57,2/86,1/77,1/86,2/68,1/57,1/77,1/48,1/39,1/48,1/30,1/39,1/48,1/39,1/48,1/57,1/48,2/39,1/30,1/12,1/21,1/12,1/4}
\bartrack{RBR1\_SRX3531272(RBR1\_ChIP\_rep1)}{org}{1/43,1/40,1/50,2/36,1/43,1/47,1/34,1/50,1/36,1/59,1/65,1/48,1/59,3/65,1/61,1/54,1/36,1/41,2/22,1/27,1/13,1/16,1/65,1/65,1/81,1/92,1/79,1/74,1/99,1/95,1/88,1/99,1/92,1/95,1/110,1/99,1/95,1/113,2/99,1/95,1/50,1/40,1/11,1/4}
\bartrack{RBR1\_SRX3531273(RBR1\_ChIP\_rep2)}{org}{1/84,1/91,1/84,2/71,1/66,1/50,2/75,1/91,3/104,1/95,1/99,2/109,1/113,1/109,1/104,1/91,1/71,2/66,1/41,2/37,1/2,2/46,1/26,1/21,1/26,2/32,3/17,1/37,1/26,2/32,1/41,3/46,1/50,1/55,1/26}
\bartrack{SE\_ERX2858751(Arabidopsis Col-0 WT seedlings biorep1)}{org}{5/57,6/30,1/4,14/25,6/81,3/57,4/86,4/57,3/113,1/57,2/86}
\densetrack{SE\_ERX2858752(Arabidopsis Col-0 WT seedlings biorep1)}{org}{5/4,6/2,1/1,14/2,6/6,3/4,4/7,4/4,3/9,1/4,2/7}
\bartrack{SE\_ERX2858753(Arabidopsis Col-0 WT seedlings biorep1)}{org}{6/5,1/29,1/14,1/29,2/39,1/52,3/58,1/79,3/93,1/106,4/84,1/90,2/102,1/113,1/102,2/88,1/75,1/72,1/79,1/93,1/84,1/70,2/84,3/72,1/84,1/97,1/90,2/84,2/97}
\densetrack{SHL\_SRX3226098(SHL ChIPSeq-1)}{org}{49/0}
\gdef\curdiv{1}
\bartrack{SHL\_SRX3226099(SHL ChIPSeq-2)}{org}{40/0,9/51}
\gdef\curdiv{2.224}
\densetrack{SMXL6\_SRX7187013(s678 SMXL6HA\_ChIPseq\_Rep1)}{org}{1/1,5/3,1/5,2/6,1/7,4/8,6/9,1/8,3/7,2/6,1/5,3/3,1/2,15/1,1/2,1/3,1/4}
\bartrack{SMXL6\_SRX7187015(s678 SMXL6HA\_ChIPseq\_Rep2)}{org}{2/57,3/37,2/4,2/0,10/4,1/26,9/37,10/26,1/4,1/0,1/37,2/79,2/90,1/104,2/113}
\densetrack{SOB3\_SRX5001348(SOB3-GFP ChIP replicate 1)}{org}{1/6,1/7,1/9,4/8,1/7,1/6,3/5,1/6,3/5,1/4,2/5,2/3,1/2,5/1,1/2,2/3,4/4,1/5,1/6,1/5,1/4,1/5,1/4,5/5,2/4,2/3}
\bartrack{SOB3\_SRX5001349(SOB3-GFP ChIP replicate 2)}{org}{1/88,1/97,1/110,3/113,1/111,1/113,1/106,1/111,3/102,1/84,1/97,1/93,1/88,1/93,1/84,1/79,1/66,1/62,1/55,1/59,2/75,1/71,3/62,1/59,1/62,1/55,1/66,2/51,1/55,1/42,1/46,2/42,1/37,1/33,1/24,2/4,3/6}
\bartrack{SOG1\_SRX3866936(IP\_SOG1-3xFLAG\_20min)}{org}{2/43,1/57,3/43,1/37,1/50,2/66,1/72,1/79,1/86,1/106,1/113,3/106,1/92,1/86,3/79,2/86,1/79,1/86,1/72,1/50,1/43,3/30,2/4,1/11,1/23,1/30,4/37,1/23,3/15,1/30,1/37,1/57}
\densetrack{SOG1\_SRX3866937(IP\_SOG1-3xFLAG\_1h)}{org}{1/3,1/2,1/3,1/2,1/4,1/3,1/4,3/5,2/4,4/6,2/8,1/6,1/7,2/8,1/7,1/9,2/8,2/6,4/4,1/2,1/3,6/2,9/1}
\bartrack{SPL7-SRX250135 (SRX250135: FLAG-SPL7 ChIP-seq)}{org}{3/82,2/113,1/93,3/88,2/70,1/50,1/46,2/39,1/63,1/67,1/46,1/67,4/70,3/39,1/19,2/35,1/28,1/39,4/50,1/28,2/46,1/24,8/19,2/4}
\densetrack{SPT6L\_SRX5169086(SPT6L-GFP IP rep1)}{org}{2/9,1/8,1/7,3/6,9/5,1/6,4/5,3/4,3/3,5/2,12/1,2/2,3/3}
\bartrack{SPT6L\_SRX5169087(SPT6L-GFP IP rep2)}{org}{1/110,1/102,1/97,2/92,1/88,1/81,1/72,2/59,1/54,3/57,2/59,2/51,1/48,1/43,3/35,1/30,1/25,1/21,1/17,2/13,1/11,1/7,8/3,1/5,1/10,1/11,1/12,2/14,1/21,1/25,1/32,1/39}
\densetrack{STZ\_SRX6460108(STZ\_AIR\_ChIPseq\_rep1)}{org}{1/2,5/1,1/2,1/1,4/3,1/1,2/2,1/1,2/2,2/3,2/5,2/4,1/5,2/7,1/9,2/8,3/7,3/8,2/7,1/6,1/8,2/6,1/7,2/6,1/2,1/1,1/3,1/5}
\bartrack{STZ\_SRX6460109(STZ\_AIR\_ChIPseq\_rep2)}{org}{1/4,1/17,2/37,1/46,1/30,1/54,1/46,1/50,2/54,2/81,2/90,1/81,1/74,1/61,1/66,2/54,1/41,1/30,1/41,2/30,2/46,1/30,1/66,1/74,1/79,1/83,1/70,1/79,1/94,2/113,1/108,1/103,1/98,2/90,1/74,2/79,1/37,1/41,1/54}
\densetrack{STZ\_SRX6460110(STZ\_AIR\_ChIPseq\_rep3)}{org}{3/5,1/4,1/2,1/6,1/5,2/7,1/8,3/7,2/6,1/8,1/7,1/9,3/7,1/6,3/7,1/2,1/3,1/1,1/2,1/1,2/2,2/1,1/3,3/1,5/3,1/4,2/6,1/5,1/6,1/3}
\bartrack{STZ\_SRX6460111(STZ\_JA\_2hr\_ChIPseq\_rep1)}{org}{1/8,1/12,1/28,1/4,1/8,1/39,1/24,1/39,1/55,1/81,1/93,1/88,2/93,1/97,1/93,1/103,1/113,1/103,1/77,2/70,1/50,1/55,1/50,1/55,1/77,1/62,1/66,1/70,1/88,1/108,1/103,1/97,1/93,1/77,2/66,1/97,1/70,1/97,1/113,1/97,1/93,2/77,1/61,1/55,1/50}
\densetrack{TCP4\_SRX4168241(mTCP4\_ChIP)}{org}{3/2,2/4,1/3,2/4,1/6,1/7,4/8,1/9,2/8,6/7,1/5,2/4,2/3,16/1,1/3,1/4,2/5,1/7}
\bartrack{TFL1\_ERX2826885(gTFL1-1xVenus\_biorep1)}{org}{1/39,1/52,2/63,1/52,3/76,1/63,1/76,2/39,1/52,2/87,3/112,1/101,3/87,2/76,1/87,2/63,2/52,1/39,2/52,1/39,2/4,1/25,3/39,2/52,2/39,2/25,3/39,1/52}
\bartrack{TFL1\_ERX2826887(gTFL1-1xVenus\_biorep3)}{org}{2/4,3/27,3/36,1/54,2/61,2/69,3/78,1/96,2/105,3/111,1/87,1/96,1/87,3/78,1/61,2/54,2/45,2/61,1/69,1/54,1/45,1/54,1/45,3/54,1/45,1/54,2/69,1/87,1/96}
\end{tikzpicture}
\end{document}
